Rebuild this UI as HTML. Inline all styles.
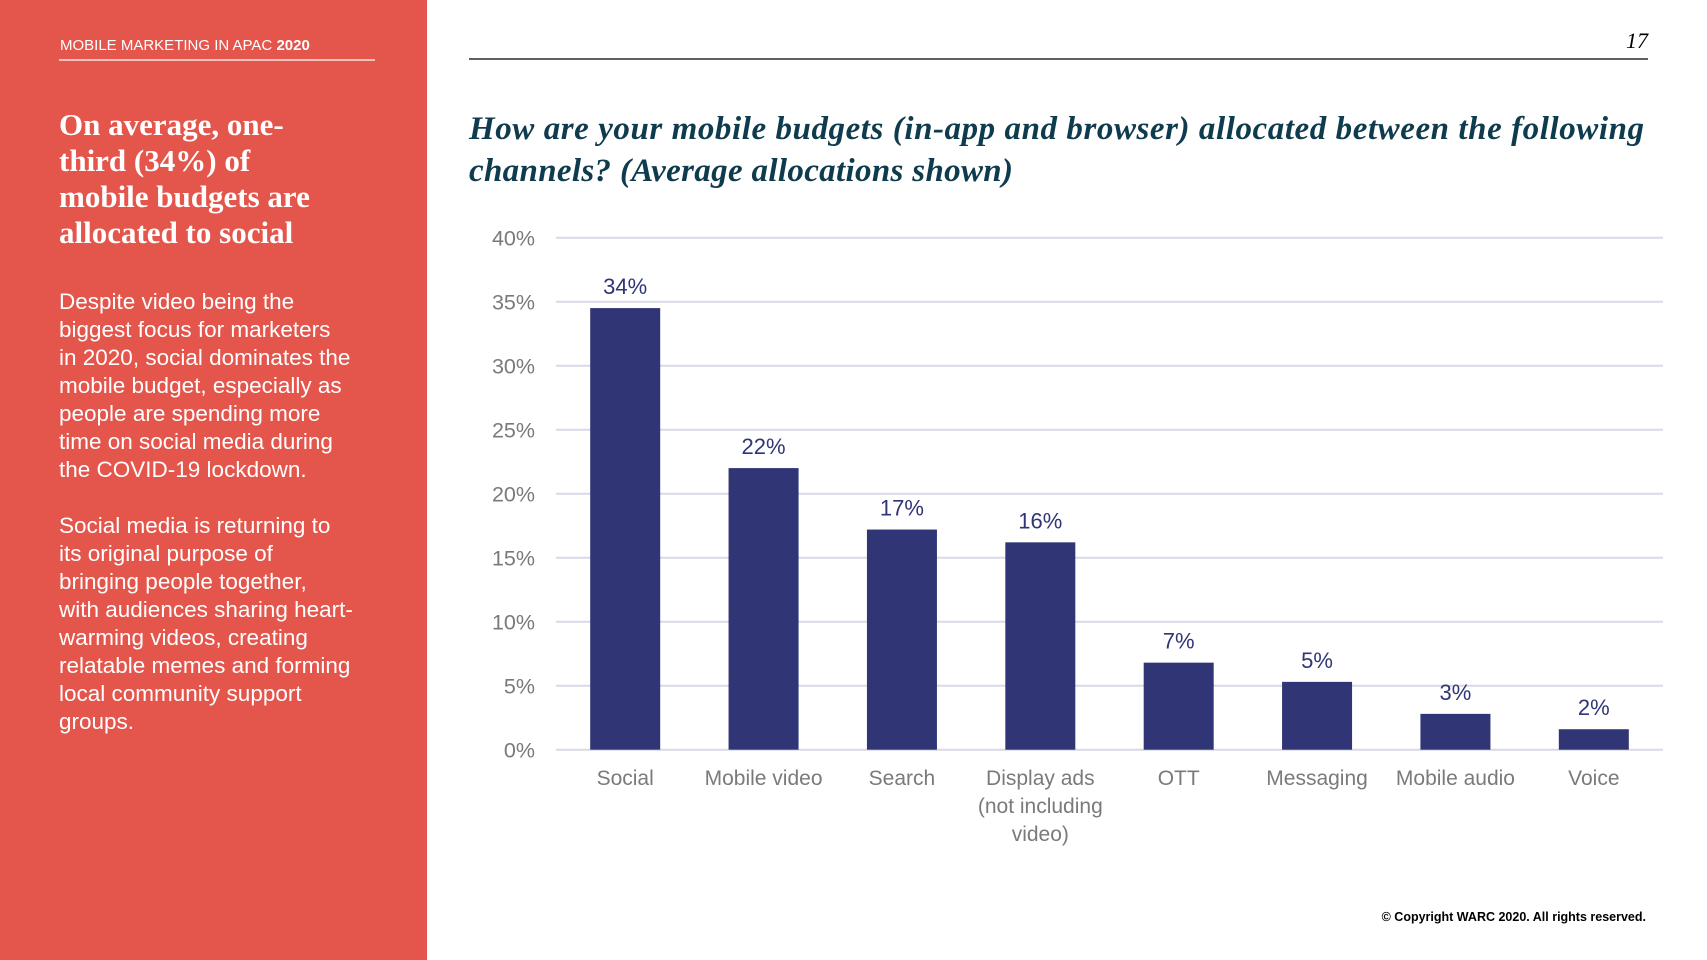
<!DOCTYPE html>
<html><head><meta charset="utf-8"><style>
html,body{margin:0;padding:0;background:#fff}
svg{display:block}
</style></head><body>
<svg id="chart" width="1707" height="960" viewBox="0 0 1707 960" xmlns="http://www.w3.org/2000/svg">
<rect x="0" y="0" width="427" height="960" fill="#E4554B"/>
<text x="60" y="50" font-family="Liberation Sans, sans-serif" font-size="15" fill="#fff">MOBILE MARKETING IN APAC <tspan font-weight="bold">2020</tspan></text>
<line x1="59" y1="60" x2="375" y2="60" stroke="#fff" stroke-width="1.2"/>
<g font-family="Liberation Serif, serif" font-weight="bold" font-size="31" fill="#fff">
<text x="59" y="135">On average, one-</text>
<text x="59" y="171">third (34%) of</text>
<text x="59" y="207">mobile budgets are</text>
<text x="59" y="243">allocated to social</text>
</g>
<g font-family="Liberation Sans, sans-serif" font-size="22.5" fill="#fff">
<text x="59" y="309">Despite video being the</text>
<text x="59" y="337">biggest focus for marketers</text>
<text x="59" y="365">in 2020, social dominates the</text>
<text x="59" y="393">mobile budget, especially as</text>
<text x="59" y="421">people are spending more</text>
<text x="59" y="449">time on social media during</text>
<text x="59" y="477">the COVID-19 lockdown.</text>
<text x="59" y="533">Social media is returning to</text>
<text x="59" y="561">its original purpose of</text>
<text x="59" y="589">bringing people together,</text>
<text x="59" y="617">with audiences sharing heart-</text>
<text x="59" y="645">warming videos, creating</text>
<text x="59" y="673">relatable memes and forming</text>
<text x="59" y="701">local community support</text>
<text x="59" y="729">groups.</text>
</g>
<line x1="469" y1="59" x2="1648" y2="59" stroke="#000" stroke-width="1.3"/>
<text x="1648" y="48" text-anchor="end" font-family="Liberation Serif, serif" font-style="italic" font-size="22" fill="#000">17</text>
<g font-family="Liberation Serif, serif" font-weight="bold" font-style="italic" font-size="33" fill="#0E3B4E">
<text x="469" y="139" textLength="1175">How are your mobile budgets (in-app and browser) allocated between the following</text>
<text x="469" y="181" textLength="544">channels? (Average allocations shown)</text>
</g>
<g id="grid"></g><g id="bars"></g><g id="labels"></g>
<text x="1646" y="921" text-anchor="end" font-family="Liberation Sans, sans-serif" font-weight="bold" font-size="12.5" fill="#000">© Copyright WARC 2020. All rights reserved.</text>
</svg>
<script>
const categories = [["Social"],["Mobile video"],["Search"],["Display ads","(not including","video)"],["OTT"],["Messaging"],["Mobile audio"],["Voice"]];
const values = [34.5, 22.0, 17.2, 16.2, 6.8, 5.3, 2.8, 1.6];
const valueLabels = ["34%","22%","17%","16%","7%","5%","3%","2%"];
const ticks = [0,5,10,15,20,25,30,35,40];
const tickLabels = ["0%","5%","10%","15%","20%","25%","30%","35%","40%"];
const NS="http://www.w3.org/2000/svg";
const y0=749.7, yTop=237.7, gx0=556, gx1=1663, vmax=40;
const yScale=v=>y0-(v/vmax)*(y0-yTop);
const step=(gx1-gx0)/categories.length;
const xCenter=i=>gx0+step*(i+0.5);
const bw=70;
function mk(tag,attrs,parent){const e=document.createElementNS(NS,tag);for(const k in attrs)e.setAttribute(k,attrs[k]);parent.appendChild(e);return e;}
const grid=document.getElementById('grid'),bars=document.getElementById('bars'),labels=document.getElementById('labels');
ticks.forEach((t,i)=>{
  const l=mk('line',{x1:gx0,x2:gx1,y1:yScale(t),y2:yScale(t),stroke:'#D9D9E6','stroke-width':2},grid);
  
  
  const tx=mk('text',{x:535,y:yScale(t)+8,'text-anchor':'end','font-family':'Liberation Sans, sans-serif','font-size':21.5,fill:'#7A7A7A'},grid);
  tx.textContent=tickLabels[i];
  
  
});
values.forEach((v,i)=>{
  const r=mk('rect',{x:xCenter(i)-bw/2,y:yScale(v),width:bw,height:y0-yScale(v),fill:'#303575'},bars);
  
  
  const t=mk('text',{x:xCenter(i),y:yScale(v)-14,'text-anchor':'middle','font-family':'Liberation Sans, sans-serif','font-size':22,fill:'#303575'},labels);
  t.textContent=valueLabels[i];
  
  
  categories[i].forEach((line,j)=>{
    const c=mk('text',{x:xCenter(i),y:785+j*28,'text-anchor':'middle','font-family':'Liberation Sans, sans-serif','font-size':21,fill:'#7A7A7A'},labels);
    c.textContent=line;
    
    
  });
});
</script>
</body></html>
